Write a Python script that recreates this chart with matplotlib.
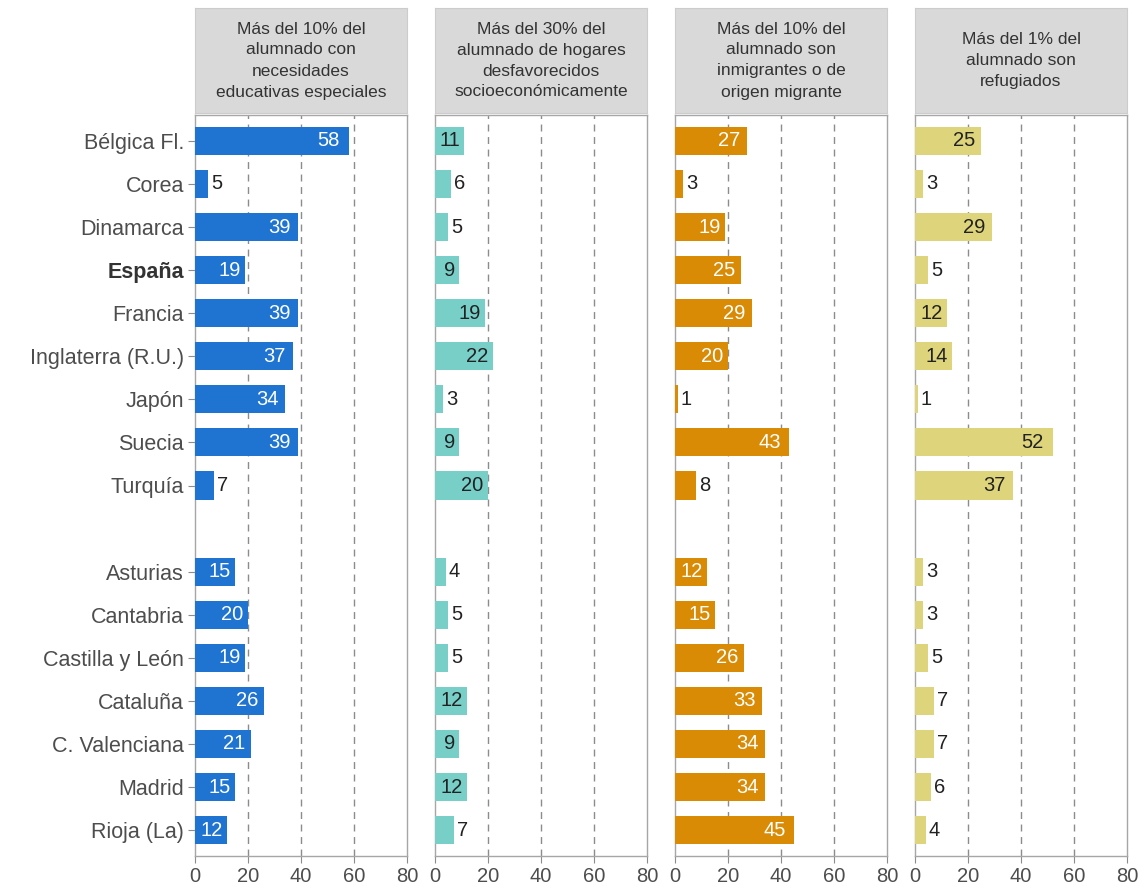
import matplotlib
matplotlib.use("Agg")
import matplotlib.pyplot as plt
import numpy as np

plt.rcParams['font.family'] = ['Liberation Sans', 'DejaVu Sans']

labels = ['Bélgica Fl.', 'Corea', 'Dinamarca', 'España', 'Francia',
          'Inglaterra (R.U.)', 'Japón', 'Suecia', 'Turquía', '',
          'Asturias', 'Cantabria', 'Castilla y León', 'Cataluña',
          'C. Valenciana', 'Madrid', 'Rioja (La)']

titles = ['Más del 10% del\nalumnado con\nnecesidades\neducativas especiales',
          'Más del 30% del\nalumnado de hogares\ndesfavorecidos\nsocioeconómicamente',
          'Más del 10% del\nalumnado son\ninmigrantes o de\norigen migrante',
          'Más del 1% del\nalumnado son\nrefugiados']

# None = empty separator row
nee = [58, 5, 39, 19, 39, 37, 34, 39, 7, None, 15, 20, 19, 26, 21, 15, 12]
desfav = [11, 6, 5, 9, 19, 22, 3, 9, 20, None, 4, 5, 5, 12, 9, 12, 7]
inmig = [27, 3, 19, 25, 29, 20, 1, 43, 8, None, 12, 15, 26, 33, 34, 34, 45]
refug = [25, 3, 29, 5, 12, 14, 1, 52, 37, None, 3, 3, 5, 7, 7, 6, 4]

series = [nee, desfav, inmig, refug]
colors = ['#1f74d2', '#78cfc8', '#d98b06', '#ddd47c']
inside_txt = ['white', '#222222', 'white', '#222222']

W, H = 1145, 891
fig = plt.figure(figsize=(W / 100, H / 100), dpi=100)

lefts = [195, 435, 675, 915]
pw = 212
top, bot = 115, 856
s_top, s_bot = 8, 113

ypos = np.arange(len(labels))
for i in range(4):
    ax = fig.add_axes([lefts[i] / W, 1 - bot / H, pw / W, (bot - top) / H])
    vals = series[i]
    for y, v in zip(ypos, vals):
        if v is None:
            continue
        ax.barh(y, v, height=0.65, color=colors[i], zorder=3)
        if v >= 9:
            off = 1.0 + 0.045 * v
            ax.text(v - off, y, str(v), ha='right', va='center', fontsize=14.5,
                    color=inside_txt[i], zorder=4)
        else:
            ax.text(v + 1.2, y, str(v), ha='left', va='center', fontsize=14.5,
                    color='#222222', zorder=4)
    for g in [20, 40, 60]:
        ax.axvline(g, color='#8c8c8c', lw=1, ls=(0, (5, 4)), zorder=1)
    ax.set_xlim(0, 80)
    ax.set_ylim(len(labels) - 0.4, -0.6)
    ax.set_xticks([0, 20, 40, 60, 80])
    ax.tick_params(axis='x', labelsize=14.5, colors='#8c8c8c',
                   labelcolor='#4d4d4d', length=5, pad=3)
    for sp in ax.spines.values():
        sp.set_color('#a6a6a6')
        sp.set_linewidth(1)
    if i == 0:
        idx = [k for k, l in enumerate(labels) if l]
        ax.set_yticks(idx)
        ax.set_yticklabels([labels[k] for k in idx])
        ax.tick_params(axis='y', labelsize=15.5, colors='#8c8c8c',
                       labelcolor='#4d4d4d', length=5, pad=3)
        for t in ax.get_yticklabels():
            if t.get_text() == 'España':
                t.set_fontweight('bold')
                t.set_color('#333333')
    else:
        ax.set_yticks([])

    sx = fig.add_axes([lefts[i] / W, 1 - s_bot / H, pw / W, (s_bot - s_top) / H])
    sx.set_facecolor('#d9d9d9')
    sx.set_xticks([])
    sx.set_yticks([])
    for sp in sx.spines.values():
        sp.set_color('#cccccc')
    sx.text(0.5, 0.5, titles[i], ha='center', va='center', fontsize=12.5,
            color='#333333', linespacing=1.5, transform=sx.transAxes)

fig.savefig('out.png', dpi=100)
